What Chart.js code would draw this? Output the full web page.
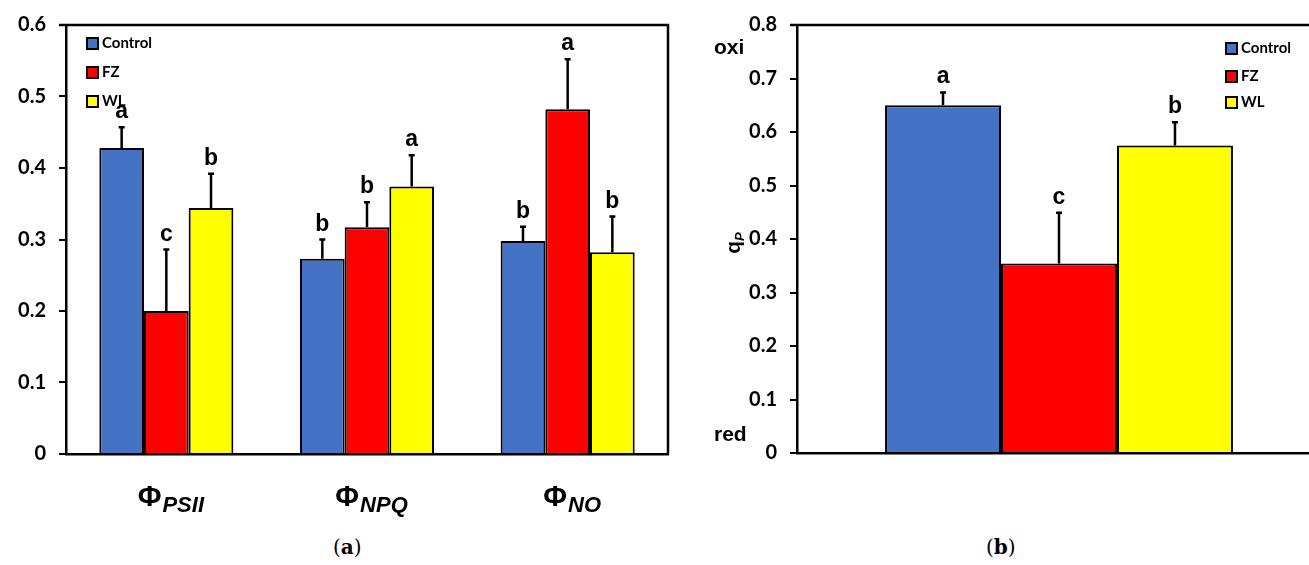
<!DOCTYPE html>
<html>
<head>
<meta charset="utf-8">
<script src="https://cdn.jsdelivr.net/npm/chart.js@4/dist/chart.umd.min.js"></script>
<style>
  body { margin: 0; width: 1309px; height: 565px; overflow: hidden; background: #fff; position: relative; }
  #wrapA { position: absolute; left: 0; top: 0; width: 690px; height: 530px; }
  #wrapB { position: absolute; left: 700px; top: 0; width: 640px; height: 530px; }
  .caption { position: absolute; top: 535px; font-family: "DejaVu Serif", serif; font-size: 20px; }
</style>
</head>
<body>
<div id="wrapA"><canvas id="chartA"></canvas></div>
<div id="wrapB"><canvas id="chartB"></canvas></div>
<div class="caption" style="left:333px">(<b>a</b>)</div>
<div class="caption" style="left:986px">(<b>b</b>)</div>
<script>
// panel (a): yields
const groupsA = ['PSII', 'NPQ', 'NO'];
const controlA = [0.428, 0.273, 0.298];
const fzA = [0.200, 0.317, 0.482];
const wlA = [0.344, 0.374, 0.282];
const controlErrA = [0.029, 0.027, 0.020];
const fzErrA = [0.086, 0.035, 0.070];
const wlErrA = [0.048, 0.044, 0.050];
const controlLetA = ['a', 'b', 'b'];
const fzLetA = ['c', 'b', 'a'];
const wlLetA = ['b', 'a', 'b'];
const ticksA = [0, 0.1, 0.2, 0.3, 0.4, 0.5, 0.6];

// panel (b): qP
const treatments = ['Control', 'FZ', 'WL'];
const qpValues = [0.650, 0.354, 0.575];
const qpErr = [0.024, 0.095, 0.043];
const qpLetters = ['a', 'c', 'b'];
const ticksB = [0, 0.1, 0.2, 0.3, 0.4, 0.5, 0.6, 0.7, 0.8];

const colors = ['#4472C4', '#FF0000', '#FFFF00'];
const tickFont = { family: 'Lato', weight: 'bold', size: 20 };

function fmt(v) { return v === 0 ? '0' : v.toFixed(1); }

// upper error whiskers + significance letters
const errorBars = {
  id: 'errorBars',
  afterDatasetsDraw(chart) {
    const ctx = chart.ctx, y = chart.scales.y;
    ctx.save();
    chart.data.datasets.forEach((ds, i) => {
      chart.getDatasetMeta(i).data.forEach((bar, j) => {
        const top = y.getPixelForValue(ds.data[j] + ds.err[j]);
        ctx.strokeStyle = '#000';
        ctx.lineWidth = 2.5;
        ctx.beginPath();
        ctx.moveTo(bar.x, bar.y);
        ctx.lineTo(bar.x, top);
        ctx.moveTo(bar.x - 3, top);
        ctx.lineTo(bar.x + 3, top);
        ctx.stroke();
        ctx.fillStyle = '#000';
        ctx.font = 'bold 23px "Liberation Sans"';
        ctx.textAlign = 'center';
        ctx.textBaseline = 'alphabetic';
        ctx.fillText(ds.letters[j], bar.x, top - 9);
      });
    });
    ctx.restore();
  }
};

function drawLegend(chart, x0, ys) {
  const ctx = chart.ctx;
  ctx.save();
  chart.data.datasets.forEach((ds, i) => {
    ctx.fillStyle = ds.backgroundColor;
    ctx.fillRect(x0, ys[i] - 5, 11, 11);
    ctx.strokeStyle = '#000';
    ctx.lineWidth = 2;
    ctx.strokeRect(x0, ys[i] - 5, 11, 11);
    ctx.fillStyle = '#000';
    ctx.font = 'bold 15px Lato';
    ctx.textAlign = 'left';
    ctx.textBaseline = 'middle';
    ctx.fillText(ds.label, x0 + 15, ys[i]);
  });
  ctx.restore();
}

function yAxis(max, ticks, width) {
  return {
    min: 0, max: max,
    afterBuildTicks(s) { s.ticks = ticks.map(v => ({ value: v })); },
    afterFit(s) { s.width = width; },
    ticks: { font: tickFont, color: '#000', padding: 13, callback: v => fmt(v) },
    grid: { drawOnChartArea: false, drawTicks: true, tickLength: 7, color: '#000', lineWidth: 2 },
    border: { color: '#000', width: 2.5 }
  };
}

const xAxisHidden = {
  ticks: { display: false },
  grid: { display: false },
  border: { color: '#000', width: 2.5 },
  afterFit(s) { s.height = 0; }
};

new Chart(document.getElementById('chartA'), {
  type: 'bar',
  data: {
    labels: groupsA,
    datasets: [
      { label: 'Control', data: controlA, err: controlErrA, letters: controlLetA },
      { label: 'FZ', data: fzA, err: fzErrA, letters: fzLetA },
      { label: 'WL', data: wlA, err: wlErrA, letters: wlLetA }
    ].map((d, i) => Object.assign(d, {
      backgroundColor: colors[i], borderColor: '#000', borderWidth: 2,
      categoryPercentage: 0.668, barPercentage: 1
    }))
  },
  options: {
    responsive: true, maintainAspectRatio: false, animation: false,
    layout: { padding: { left: 0, top: 24, right: 22, bottom: 76 } },
    plugins: { legend: { display: false }, tooltip: { enabled: false } },
    scales: { x: xAxisHidden, y: yAxis(0.6, ticksA, 66) }
  },
  plugins: [errorBars, {
    id: 'frameA',
    afterDraw(chart) {
      const ctx = chart.ctx, a = chart.chartArea, x = chart.scales.x;
      ctx.save();
      ctx.strokeStyle = '#000';
      ctx.lineWidth = 2.5;
      ctx.beginPath();
      ctx.moveTo(a.left - 7, a.top);
      ctx.lineTo(a.right, a.top);
      ctx.lineTo(a.right, a.bottom);
      ctx.stroke();
      // category labels: Φ with italic subscript
      chart.data.labels.forEach((lab, i) => {
        const cx = x.getPixelForValue(i);
        ctx.font = 'bold 29px "Liberation Sans"';
        const w1 = ctx.measureText('Φ').width;
        ctx.font = 'italic bold 22px "Liberation Sans"';
        const w2 = ctx.measureText(lab).width;
        const left = cx - (w1 + w2) / 2 + 4;
        ctx.fillStyle = '#000';
        ctx.textAlign = 'left';
        ctx.textBaseline = 'alphabetic';
        ctx.font = 'bold 29px "Liberation Sans"';
        ctx.fillText('Φ', left, 506);
        ctx.font = 'italic bold 22px "Liberation Sans"';
        ctx.fillText(lab, left + w1 + 1, 512);
      });
      ctx.restore();
      drawLegend(chart, a.left + 21, [43, 72, 101]);
    }
  }]
});

new Chart(document.getElementById('chartB'), {
  type: 'bar',
  data: {
    labels: ['qP'],
    datasets: treatments.map((t, i) => ({
      label: t, data: [qpValues[i]], err: [qpErr[i]], letters: [qpLetters[i]],
      backgroundColor: colors[i], borderColor: '#000', borderWidth: 2,
      categoryPercentage: 0.664, barPercentage: 1
    }))
  },
  options: {
    responsive: true, maintainAspectRatio: false, animation: false,
    layout: { padding: { left: 0, top: 23, right: 19, bottom: 77 } },
    plugins: { legend: { display: false }, tooltip: { enabled: false } },
    scales: { x: xAxisHidden, y: yAxis(0.8, ticksB, 97) }
  },
  plugins: [errorBars, {
    id: 'frameB',
    afterDraw(chart) {
      const ctx = chart.ctx, a = chart.chartArea;
      ctx.save();
      ctx.strokeStyle = '#000';
      ctx.lineWidth = 2.5;
      ctx.beginPath();
      ctx.moveTo(a.left - 7, a.top);
      ctx.lineTo(chart.width, a.top);
      ctx.stroke();
      ctx.fillStyle = '#000';
      ctx.font = 'bold 21px "Liberation Sans"';
      ctx.textAlign = 'left';
      ctx.textBaseline = 'middle';
      ctx.fillText('oxi', 14, 48);
      ctx.fillText('red', 14, 435);
      // y title q_P
      ctx.translate(34, 243);
      ctx.rotate(-Math.PI / 2);
      ctx.font = 'bold 21px "Liberation Sans"';
      const wq = ctx.measureText('q').width;
      ctx.font = 'italic bold 13px "Liberation Sans"';
      const wp = ctx.measureText('P').width;
      ctx.font = 'bold 21px "Liberation Sans"';
      ctx.textBaseline = 'alphabetic';
      ctx.fillText('q', -(wq + wp) / 2, 6);
      ctx.font = 'italic bold 13px "Liberation Sans"';
      ctx.fillText('P', -(wq + wp) / 2 + wq, 10);
      ctx.restore();
      drawLegend(chart, 526, [48, 76, 102]);
    }
  }]
});
</script>
</body>
</html>
